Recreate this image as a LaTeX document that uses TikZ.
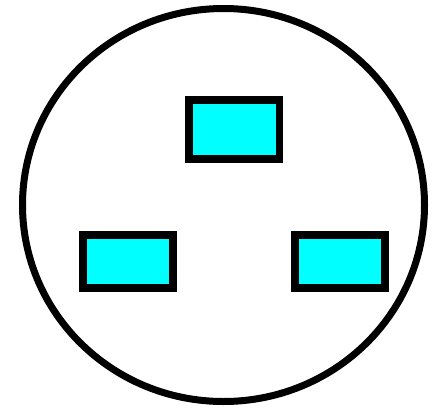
\documentclass[tikz,border=0pt]{standalone}
\usetikzlibrary{shapes.geometric}
\definecolor{purecyan}{RGB}{0,255,255}
\begin{document}
\begin{tikzpicture}[x=1pt,y=-1pt,
  plugpin/.style={draw=black,line width=7.5pt,fill=purecyan,rectangle,inner sep=0pt,minimum width=90.5pt,minimum height=59pt},
  lowpin/.style={plugpin,minimum width=90pt,minimum height=53pt}]
\useasboundingbox (0,0) rectangle (433,407);
\node[draw=black,line width=7pt,ellipse,inner sep=0pt,minimum width=402pt,minimum height=393pt] (body) at (223.5,205) {};
\node[plugpin] (top) at (234.25,129.5) {};
\node[lowpin] (left) at (128,261.5) {};
\node[lowpin] (right) at (340,261.5) {};
\end{tikzpicture}
\end{document}
